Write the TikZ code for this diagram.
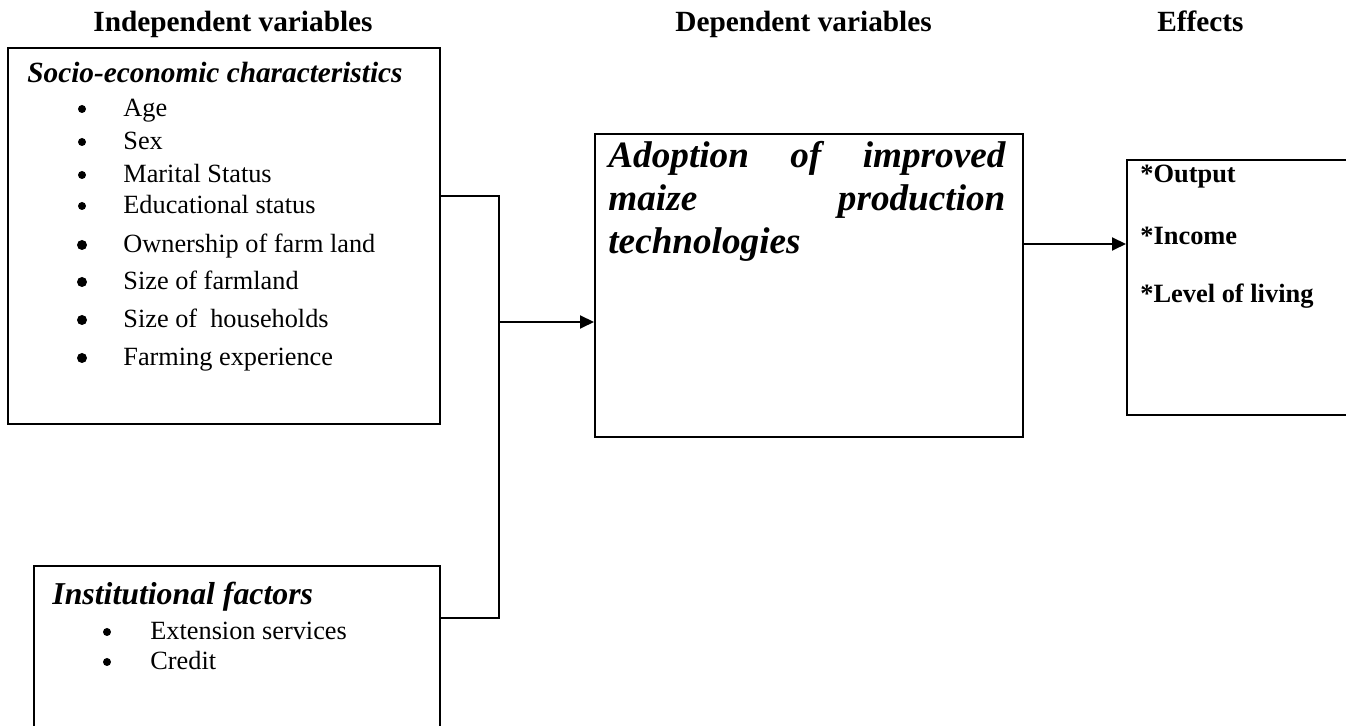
\documentclass[tikz,border=0pt]{standalone}
\usepackage{fontspec}
\setmainfont{Liberation Serif}
\usetikzlibrary{arrows.meta}

\begin{document}
\begin{tikzpicture}[x=0.5pt, y=-0.5pt,
    box/.style={draw, line width=1pt, inner sep=0pt, anchor=north west},
    wire/.style={line width=1pt},
    arr/.style={line width=1pt, -{Triangle[length=7pt, width=6.5pt]}},
    head/.style={anchor=base west, inner sep=0pt, font=\fontsize{14.65}{17}\selectfont\bfseries},
    title/.style={anchor=base west, inner sep=0pt, font=\fontsize{14.65}{17}\selectfont\bfseries\itshape},
    item/.style={anchor=base west, inner sep=0pt, font=\fontsize{13.15}{15}\selectfont},
    dot/.style={circle, fill, inner sep=0pt, minimum size=#1},
    effect/.style={anchor=base west, inner sep=0pt, font=\fontsize{13.2}{15}\selectfont\bfseries}]

    \useasboundingbox (0,0) rectangle (1346,726);

    \node[head] (indep) at (93,32) {Independent variables};
    \node[head] (dep) at (675,32) {Dependent variables};
    \node[head] (eff) at (1157,32) {Effects};

    \node[box, minimum width=216pt, minimum height=188pt] (socio) at (7,47) {};
    \node[box, minimum width=203pt, minimum height=97.5pt] (inst) at (33,565) {};
    \node[box, minimum width=214pt, minimum height=151.5pt] (adopt) at (594,133) {};
    \node[box, minimum width=122pt, minimum height=127.5pt] (effects) at (1126,159) {};

    \node[title] (sociotitle) at (27,83) {Socio-economic characteristics};
    \foreach \y/\s/\t in {117/4pt/Age, 150/4pt/Sex, 183/4pt/Marital Status,
        214/4pt/Educational status, 253/5pt/Ownership of farm land,
        290/5pt/Size of farmland, 328/5pt/Size of~ households,
        366/5pt/Farming experience} {
        \node[dot=\s] (sd\y) at (82,\y-8) {};
        \node[item] (si\y) at (123,\y) {\t};
    }

    \node[title, font=\fontsize{15.9}{18}\selectfont\bfseries\itshape] (insttitle) at (52,605) {Institutional factors};
    \foreach \y/\t in {640/Extension services, 670/Credit} {
        \node[dot=4pt] (id\y) at (107,\y-8) {};
        \node[item] (ii\y) at (150,\y) {\t};
    }

    \node[anchor=north west, inner sep=0pt, text width=198.5pt, align=justify,
        font=\fontsize{18.6}{21.5}\selectfont\bfseries\itshape] (adopttext) at (608,141)
        {Adoption of improved\linebreak maize production\linebreak technologies};

    \foreach \y/\t [count=\i] in {183/*Output, 245/*Income, 303/*Level of living}
        \node[effect] (e\i) at (1140,\y) {\t};

    \coordinate (top) at (499,196);
    \coordinate (mid) at (499,322);
    \coordinate (bot) at (499,618);
    \coordinate (res) at (1070,244);

    \draw[wire] (socio.east |- top) -- (top) -- (bot) -- (inst.east |- bot);
    \draw[arr] (mid) -- (adopt.west |- mid);
    \draw[arr] (adopt.east |- res) -- (effects.west |- res);

\end{tikzpicture}
\end{document}
